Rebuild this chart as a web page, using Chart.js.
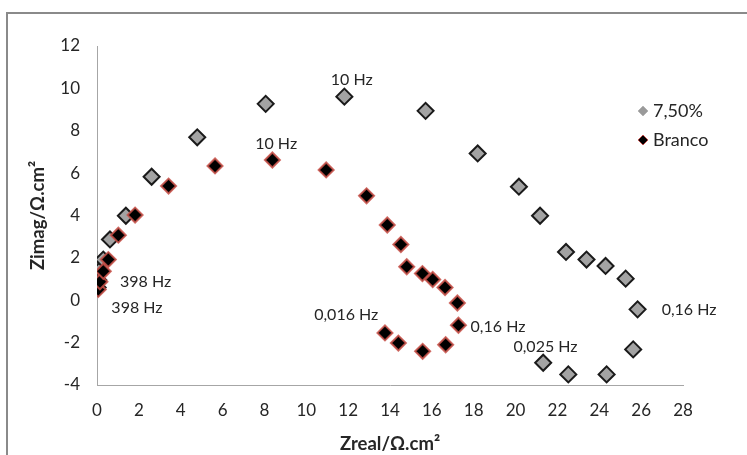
<!DOCTYPE html>
<html>
<head>
<meta charset="utf-8">
<script src="https://cdn.jsdelivr.net/npm/chart.js@4/dist/chart.umd.min.js"></script>
<style>
  html, body { margin: 0; padding: 0; background: #ffffff; }
  #wrap { width: 747px; height: 455px; position: relative; }
</style>
</head>
<body>
<div id="wrap"><canvas id="nyquist"></canvas></div>
<script>
// Nyquist data (ohm.cm2)
const zreal750 = [0.03, 0.06, 0.14, 0.30, 0.62, 1.38, 2.61, 4.79, 8.06, 11.82, 15.70, 18.19, 20.16, 21.17, 22.41, 23.39, 24.30, 25.26, 25.83, 25.62, 24.35, 22.52, 21.32];
const zimag750 = [0.60, 0.95, 1.42, 1.92, 2.87, 3.99, 5.83, 7.69, 9.27, 9.61, 8.94, 6.93, 5.36, 3.99, 2.28, 1.92, 1.62, 1.02, -0.43, -2.32, -3.50, -3.50, -2.95];

const zrealBranco = [0.06, 0.14, 0.30, 0.54, 1.02, 1.82, 3.42, 5.64, 8.38, 10.95, 12.88, 13.87, 14.52, 14.80, 15.55, 16.04, 16.63, 17.22, 17.27, 16.66, 15.56, 14.40, 13.76];
const zimagBranco = [0.51, 0.87, 1.37, 1.92, 3.07, 4.02, 5.39, 6.34, 6.62, 6.15, 4.93, 3.55, 2.63, 1.58, 1.26, 0.98, 0.60, -0.13, -1.18, -2.10, -2.41, -2.02, -1.54];

const seriesLabels = ["7,50%", "Branco"];

// frequency labels and where they sit (data units, text centre)
const freqText = ["10 Hz", "10 Hz", "398 Hz", "398 Hz", "0,016 Hz", "0,16 Hz", "0,025 Hz", "0,16 Hz"];
const freqX = [12.17, 8.56, 2.32, 1.91, 11.91, 19.16, 21.43, 28.29];
const freqY = [10.40, 7.38, 0.87, -0.36, -0.71, -1.26, -2.21, -0.44];

const xTicks = [0, 2, 4, 6, 8, 10, 12, 14, 16, 18, 20, 22, 24, 26, 28];
const yTicks = [-4, -2, 0, 2, 4, 6, 8, 10, 12];

const FONT = "Lato, 'Open Sans', sans-serif";
const TEXT = "#262626";

const toPoints = (xs, ys) => xs.map((x, i) => ({ x: x, y: ys[i] }));

const framePlugin = {
  id: "frame",
  beforeDraw(chart) {
    const ctx = chart.ctx;
    ctx.save();
    ctx.strokeStyle = "#8a8a8a";
    ctx.lineWidth = 2;
    ctx.strokeRect(7, 13, 800, 500);
    ctx.restore();
  }
};

const freqPlugin = {
  id: "freqLabels",
  afterDatasetsDraw(chart) {
    const ctx = chart.ctx;
    const xs = chart.scales.x;
    const ys = chart.scales.y;
    ctx.save();
    ctx.font = "16px " + FONT;
    ctx.fillStyle = TEXT;
    ctx.textAlign = "center";
    ctx.textBaseline = "middle";
    freqText.forEach((t, i) => {
      ctx.fillText(t, xs.getPixelForValue(freqX[i]), ys.getPixelForValue(freqY[i]));
    });
    ctx.restore();
  }
};

const legendPlugin = {
  id: "sideLegend",
  afterDraw(chart) {
    const ctx = chart.ctx;
    const x = 643;
    const rows = [111, 140];
    const fills = ["#9a9a9a", "#000000"];
    const edges = ["#b5b5b5", "#c0504d"];
    ctx.save();
    ctx.font = "18px " + FONT;
    ctx.textBaseline = "middle";
    rows.forEach((y, i) => {
      ctx.beginPath();
      ctx.moveTo(x - 5, y);
      ctx.lineTo(x, y - 5);
      ctx.lineTo(x + 5, y);
      ctx.lineTo(x, y + 5);
      ctx.closePath();
      ctx.fillStyle = fills[i];
      ctx.fill();
      ctx.lineWidth = 1;
      ctx.strokeStyle = edges[i];
      ctx.stroke();
      ctx.fillStyle = TEXT;
      ctx.fillText(seriesLabels[i], x + 10, y);
    });
    ctx.restore();
  }
};

new Chart(document.getElementById("nyquist"), {
  type: "scatter",
  data: {
    datasets: [
      {
        label: seriesLabels[0],
        data: toPoints(zreal750, zimag750),
        pointStyle: "rectRot",
        pointRadius: 8,
        pointBorderWidth: 2,
        backgroundColor: "#a3a3a3",
        borderColor: "#1a1a1a",
        order: 1,
      },
      {
        label: seriesLabels[1],
        data: toPoints(zrealBranco, zimagBranco),
        pointStyle: "rectRot",
        pointRadius: 7.5,
        pointBorderWidth: 2,
        backgroundColor: "#000000",
        borderColor: "rgba(200, 80, 72, 0.85)",
        order: 0,
      },
    ],
  },
  options: {
    responsive: true,
    maintainAspectRatio: false,
    animation: false,
    layout: { padding: { left: 20, right: 64, top: 46, bottom: 0 } },
    plugins: {
      legend: { display: false },
      tooltip: { enabled: false },
    },
    scales: {
      x: {
        type: "linear",
        min: 0,
        max: 28,
        afterFit: (s) => { s.height = 70; },
        afterBuildTicks: (s) => { s.ticks = xTicks.map((v) => ({ value: v })); },
        grid: { display: false, drawTicks: false },
        border: { display: true, color: "#a6a6a6", width: 1 },
        ticks: { padding: 15, color: TEXT, font: { family: FONT, size: 17 } },
        title: {
          display: true,
          text: "Zreal/Ω.cm²",
          color: TEXT,
          padding: 0,
          font: { family: FONT, size: 18.5, weight: "bold" },
        },
      },
      y: {
        type: "linear",
        min: -4,
        max: 12,
        afterFit: (s) => { s.width = 77; },
        afterBuildTicks: (s) => { s.ticks = yTicks.map((v) => ({ value: v })); },
        grid: { display: false, drawTicks: false },
        border: { display: true, color: "#a6a6a6", width: 1 },
        ticks: { padding: 17, color: TEXT, font: { family: FONT, size: 17 } },
        title: {
          display: true,
          text: "Zimag/Ω.cm²",
          color: TEXT,
          padding: { top: 7, bottom: 0 },
          font: { family: FONT, size: 18.5, weight: "bold" },
        },
      },
    },
  },
  plugins: [framePlugin, freqPlugin, legendPlugin],
});
</script>
</body>
</html>
